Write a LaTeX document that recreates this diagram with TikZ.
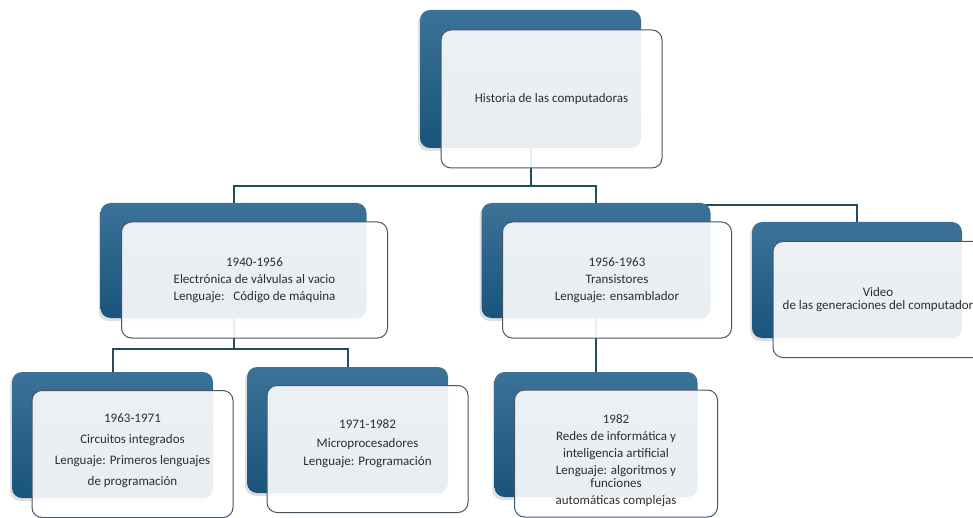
\documentclass[tikz,border=0pt]{standalone}
\usepackage{fontspec}
\setmainfont{Carlito}
\usepackage{tikz}
\usetikzlibrary{positioning,shadows,backgrounds}
\usepackage{xcolor}
\definecolor{cardtop}{RGB}{60,114,152}
\definecolor{cardbottom}{RGB}{24,84,124}
\definecolor{linecolor}{RGB}{33,76,92}
\definecolor{edgecolor}{RGB}{72,86,100}
\definecolor{textcolor}{RGB}{45,45,45}

\begin{document}
\begin{tikzpicture}[x=1pt, y=-1pt,
    box/.style 2 args={minimum width=#1, minimum height=#2, inner sep=0pt},
    back/.style={rectangle, rounded corners=10pt, top color=cardtop, bottom color=cardbottom, drop shadow={shadow xshift=-2pt, shadow yshift=-3pt, opacity=0.25}},
    front/.style={rectangle, rounded corners=10pt, draw=edgecolor, line width=1pt, fill=white, fill opacity=0.9, text opacity=1, align=center, text=textcolor, font=\fontsize{13}{17}\selectfont},
    cardtext/.style={align=center, text=textcolor, inner sep=0pt, font=\fontsize{13}{17}\selectfont},
    link/.style={draw=linecolor, line width=2pt},
]
    \useasboundingbox (0,0) rectangle (973,518);

    % Root
    \node[back, box={221pt}{138pt}] (rb) at (530.5, 79) {};
    \node[front, box={221pt}{138pt}] (rf) at ([xshift=21pt, yshift=-20pt]rb.center) {Historia de las computadoras};

    % Second level
    \node[back, box={266pt}{115pt}] (t1b) at (233.5, 260.5) {};
    \node[front, box={266pt}{116pt}] (t1f) at ([xshift=21pt, yshift=-19.5pt]t1b.center) {1940-1956\\Electrónica de válvulas al vacio\\Lenguaje:\ \ \ Código de máquina};

    \node[back, box={229pt}{115pt}] (t2b) at (596, 260.5) {};
    \node[front, box={229pt}{116pt}] (t2f) at ([xshift=21pt, yshift=-19.5pt]t2b.center) {1956-1963\\Transistores\\Lenguaje: ensamblador};

    \node[back, box={210pt}{116pt}] (vb) at (857, 280) {};
    \node[front, box={210pt}{116pt}] (vf) at ([xshift=21pt, yshift=-19.5pt]vb.center) {Video\\[-4pt]de las generaciones del computador};

    % Third level
    \node[back, box={201pt}{126pt}] (b1b) at (112.5, 435) {};
    \node[front, box={201pt}{127pt}] (b1f) at ([xshift=20pt, yshift=-19pt]b1b.center) {};
    \node[cardtext, font=\fontsize{13}{21}\selectfont] (b1t) at ([yshift=3pt]b1f.center) {1963-1971\\Circuitos integrados\\Lenguaje: Primeros lenguajes\\de programación};

    \node[back, box={201pt}{126pt}] (b2b) at (347.5, 430) {};
    \node[front, box={201pt}{127pt}] (b2f) at ([xshift=20pt, yshift=-19pt]b2b.center) {};
    \node[cardtext, font=\fontsize{13}{18.5}\selectfont] (b2t) at ([yshift=5pt]b2f.center) {1971-1982\\Microprocesadores\\Lenguaje: Programación};

    \node[back, box={203pt}{125pt}] (b3b) at (596, 434.5) {};
    \node[front, box={203pt}{127pt}] (b3f) at ([xshift=20pt, yshift=-19pt]b3b.center) {};
    \node[cardtext] (b3t) at ([yshift=-7pt]b3f.center) {1982\\Redes de informática y\\inteligencia artificial\\Lenguaje: algoritmos y\\[-4.5pt]funciones\\automáticas complejas};

    % Connectors
    \begin{scope}[on background layer]
        \draw[link] (rb.south) -- ++(0,38) -| (t1b.north);
        \draw[link] (rb.south) -- ++(0,38) -| (t2b.north);
        \draw[link] ([yshift=-2pt]t2b.north) -| (vb.north);
        \draw[link] (t1b.south) -- ++(0,31) -| (b1b.north);
        \draw[link] (t1b.south) -- ++(0,31) -| (b2b.north);
        \draw[link] (t2b.south) -- (b3b.north);
    \end{scope}
\end{tikzpicture}
\end{document}
